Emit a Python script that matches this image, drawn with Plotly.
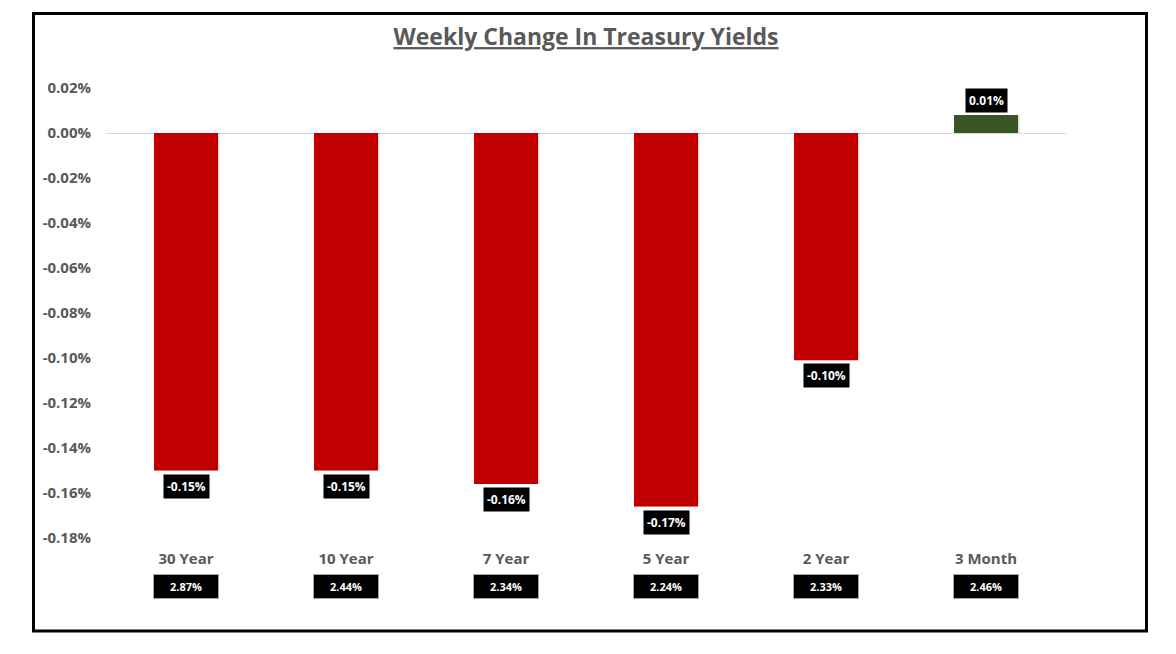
import plotly.graph_objects as go

categories = ["30 Year", "10 Year", "7 Year", "5 Year", "2 Year", "3 Month"]
weekly_change = [-0.150, -0.150, -0.156, -0.166, -0.101, 0.008]
change_labels = ["-0.15%", "-0.15%", "-0.16%", "-0.17%", "-0.10%", "0.01%"]
current_yield = ["2.87%", "2.44%", "2.34%", "2.24%", "2.33%", "2.46%"]
y_ticks = [0.02, 0.00, -0.02, -0.04, -0.06, -0.08, -0.10, -0.12, -0.14, -0.16, -0.18]
y_tick_text = ["0.02%", "0.00%", "-0.02%", "-0.04%", "-0.06%", "-0.08%", "-0.10%",
               "-0.12%", "-0.14%", "-0.16%", "-0.18%"]

# page body has an 8px margin, so figure coords = page coords - 8
OFF = 8
W, H = 1160, 638
ML, MT = 106 - OFF, 88 - OFF
PW, PH = 960, 450
MR, MB = W - ML - PW, H - MT - PH

colors = ["#C00000" if v < 0 else "#375623" for v in weekly_change]
GRAY = "#595959"
FONT = "Open Sans"

fig = go.Figure()
# soft shadow
fig.add_trace(go.Bar(
    x=categories, y=weekly_change, width=0.4, offset=-0.19,
    marker=dict(color="rgba(0,0,0,0.14)", line=dict(width=0)),
    hoverinfo="skip", showlegend=False,
))
fig.add_trace(go.Bar(
    x=categories, y=weekly_change, width=0.4, offset=-0.2,
    marker=dict(color=colors, line=dict(width=0)),
    showlegend=False,
))

annotations = []
for c, v, t in zip(categories, weekly_change, change_labels):
    annotations.append(dict(
        x=c, y=v, xref="x", yref="y", text="<b>" + t + "</b>", showarrow=False,
        yanchor="top" if v < 0 else "bottom", yshift=-3 if v < 0 else 2,
        font=dict(family=FONT, size=12, color="white"),
        bgcolor="black", borderpad=3,
    ))
for c, t in zip(categories, current_yield):
    annotations.append(dict(
        x=c, y=-48 / PH, xref="x", yref="paper", text="<b>" + t + "</b>", showarrow=False,
        yanchor="middle",
        font=dict(family=FONT, size=11, color="white"),
        bgcolor="black", bordercolor="#A6A6A6", borderwidth=1, borderpad=3,
        width=58, height=17,
    ))

def px_to_paper_x(px):
    return (px - OFF - ML) / PW

def px_to_paper_y(py):
    return (H - MB - (py - OFF)) / PH

fig.add_shape(type="rect", xref="paper", yref="paper",
              x0=px_to_paper_x(33.5), x1=px_to_paper_x(1146.5),
              y0=px_to_paper_y(631), y1=px_to_paper_y(13.5),
              line=dict(color="black", width=3), fillcolor="rgba(0,0,0,0)", layer="below")

fig.update_layout(
    width=W, height=H,
    margin=dict(l=ML, r=MR, t=MT, b=MB),
    paper_bgcolor="white", plot_bgcolor="white",
    title=dict(text="<b><u>Weekly Change In Treasury Yields</u></b>",
               x=0.5, xref="paper", xanchor="center", y=1 - (37 - OFF) / H, yanchor="middle",
               font=dict(family=FONT, size=23, color=GRAY)),
    xaxis=dict(showgrid=False, showline=False, ticks="", ticklabelstandoff=10,
               tickfont=dict(family=FONT, size=15, color=GRAY, weight="bold")),
    yaxis=dict(range=[-0.18, 0.02], tickvals=y_ticks, ticktext=y_tick_text,
               showgrid=False, showline=False, zeroline=True, zerolinecolor="#D9D9D9",
               zerolinewidth=1, ticklabelstandoff=14,
               tickfont=dict(family=FONT, size=15, color=GRAY, weight="bold")),
    annotations=annotations,
    bargap=0.6,
)

fig.write_html("out.html")
